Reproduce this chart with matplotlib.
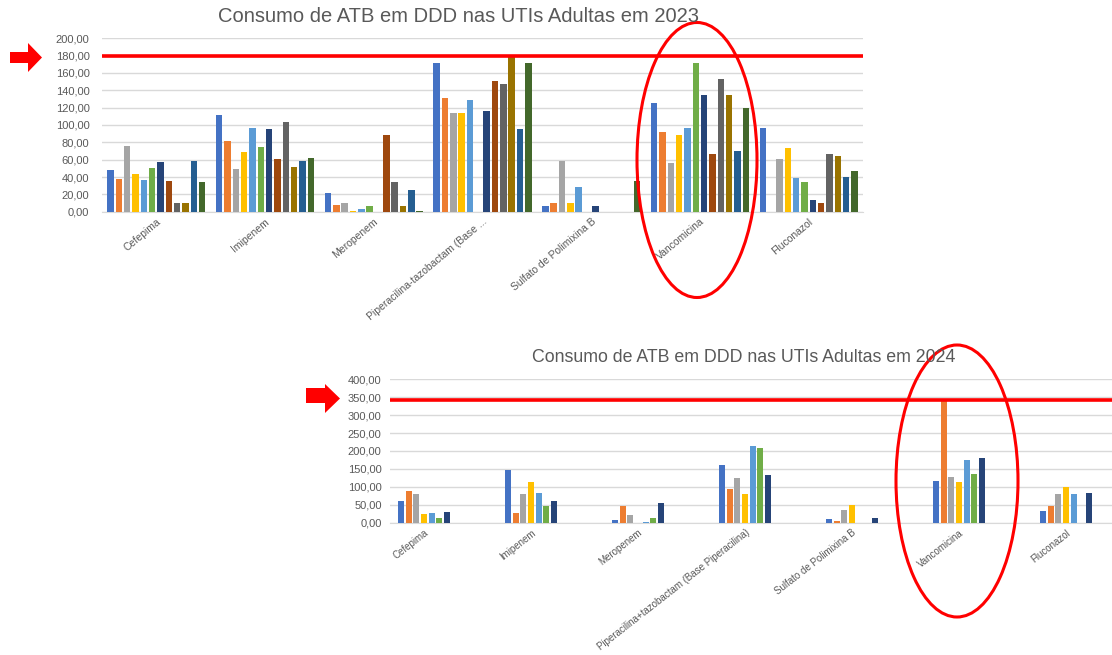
"""
Consumo de ATB em DDD nas UTIs Adultas - 2023 vs 2024.
Two Excel-style clustered bar charts with the threshold lines,
arrows and hand-drawn ellipses. Saves out.png.
"""
import numpy as np
import matplotlib
matplotlib.use("Agg")
import matplotlib.pyplot as plt
from matplotlib.patches import Ellipse, Polygon
from matplotlib.ticker import FuncFormatter, MultipleLocator
import matplotlib.transforms as mtrans

plt.rcParams["font.family"] = ["Liberation Sans", "DejaVu Sans"]

# ---- data -------------------------------------------------------------
cats_2023 = ["Cefepima", "Imipenem", "Meropenem",
             "Piperacilina-tazobactam (Base ...", "Sulfato de Polimixina B",
             "Vancomicina", "Fluconazol"]
cats_2024 = ["Cefepima", "Imipenem", "Meropenem",
             "Piperacilina+tazobactam (Base Piperacilina)",
             "Sulfato de Polimixina B", "Vancomicina", "Fluconazol"]

# one row per series (UTI), one column per antibiotic
vals_2023 = [
    [48, 111, 21, 172, 6, 125, 97],
    [38, 81, 8, 131, 10, 92, 0],
    [76, 49, 10, 114, 59, 56, 61],
    [44, 69, 1, 114, 10, 88, 74],
    [37, 97, 3, 129, 28, 97, 39],
    [50, 75, 6, 0, 0, 172, 34],
    [57, 95, 0, 116, 6, 135, 14],
    [35, 61, 88, 151, 0, 67, 10],
    [10, 103, 34, 147, 0, 153, 67],
    [10, 51, 6, 178, 0, 135, 64],
    [58, 58, 25, 95, 0, 70, 40],
    [34, 62, 1, 172, 35, 120, 47],
]
vals_2024 = [
    [60, 146, 7, 161, 10, 116, 33],
    [88, 26, 46, 94, 6, 342, 46],
    [80, 79, 21, 125, 36, 127, 79],
    [24, 113, 0, 79, 49, 114, 99],
    [26, 84, 2, 214, 0, 175, 80],
    [12, 46, 14, 207, 0, 137, 0],
    [31, 61, 56, 134, 14, 181, 83],
]
limit_2023 = 180
limit_2024 = 342

colors = ["#4472C4", "#ED7D31", "#A5A5A5", "#FFC000", "#5B9BD5", "#70AD47",
          "#264478", "#9E480E", "#636363", "#997300", "#255E91", "#43682B"]

W, H = 1112, 655
fig = plt.figure(figsize=(W / 100, H / 100), dpi=100)
fig.patch.set_facecolor("white")
# pixel coords (origin top-left) -> figure
pix = mtrans.Affine2D().scale(1 / W, -1 / H).translate(0, 1) + fig.transFigure


def box(l, t, r, b):
    return [l / W, 1 - b / H, (r - l) / W, (b - t) / H]


def bars(ax, vals, group):
    n = len(vals)
    slot = group / n
    x = np.arange(len(vals[0]))
    for j, row in enumerate(vals):
        ax.bar(x - group / 2 + (j + 0.5) * slot, row, width=slot * 0.78,
               color=colors[j], zorder=3)


def style(ax, cats, ymax, step, ypad, rot, lsize):
    ax.set_ylim(0, ymax)
    ax.yaxis.set_major_locator(MultipleLocator(step))
    ax.yaxis.set_major_formatter(FuncFormatter(lambda v, p: f"{v:.2f}".replace(".", ",")))
    ax.grid(axis="y", color="#D9D9D9", lw=1, zorder=0)
    for s in ["top", "right", "left"]:
        ax.spines[s].set_visible(False)
    ax.spines["bottom"].set_color("#D9D9D9")
    ax.tick_params(length=0, colors="#595959", labelsize=8)
    ax.tick_params(axis="y", pad=ypad)
    ax.set_xticks(np.arange(len(cats)))
    ax.set_xticklabels(cats, rotation=rot, ha="right", rotation_mode="anchor",
                       fontsize=lsize, color="#595959")


# ---- 2023 -------------------------------------------------------------
ax1 = fig.add_axes(box(102, 38.3, 863, 211.7))
bars(ax1, vals_2023, 0.92)
style(ax1, cats_2023, 200, 20, 9, 40, 7.5)
ax1.set_xlim(-0.5, 6.5)
ax1.axhline(limit_2023, color="#FF0000", lw=2.6, zorder=4)
fig.text(459 / W, 1 - 16 / H, "Consumo de ATB em DDD nas UTIs Adultas em 2023",
         ha="center", va="center", fontsize=14.5, color="#595959")

# ---- 2024 -------------------------------------------------------------
ax2 = fig.add_axes(box(390, 379.3, 1112, 522.7))
bars(ax2, vals_2024, 0.5)
style(ax2, cats_2024, 400, 50, 6, 38, 7)
ax2.set_xlim(-0.318, 6.43)
ax2.axhline(limit_2024, color="#FF0000", lw=2.6, zorder=4)
fig.text(744 / W, 1 - 357 / H, "Consumo de ATB em DDD nas UTIs Adultas em 2024",
         ha="center", va="center", fontsize=12.8, color="#595959")

# ---- annotations --------------------------------------------------------
for cx, cy, w, h in [(697, 160, 120, 275), (957, 481, 122, 272)]:
    fig.add_artist(Ellipse((cx, cy), w, h, transform=pix, fill=False,
                           ec="#FF0000", lw=2.2))

arrow_top = [(10, 52), (28, 52), (28, 43), (42, 57.5), (28, 72), (28, 63), (10, 63)]
arrow_bot = [(306, 388), (325, 388), (325, 384), (340, 398.5), (325, 413), (325, 403), (306, 403)]
for pts in [arrow_top, arrow_bot]:
    fig.add_artist(Polygon(pts, closed=True, transform=pix, fc="#FF0000", ec="none"))

fig.savefig("out.png", dpi=100)
plt.close(fig)
